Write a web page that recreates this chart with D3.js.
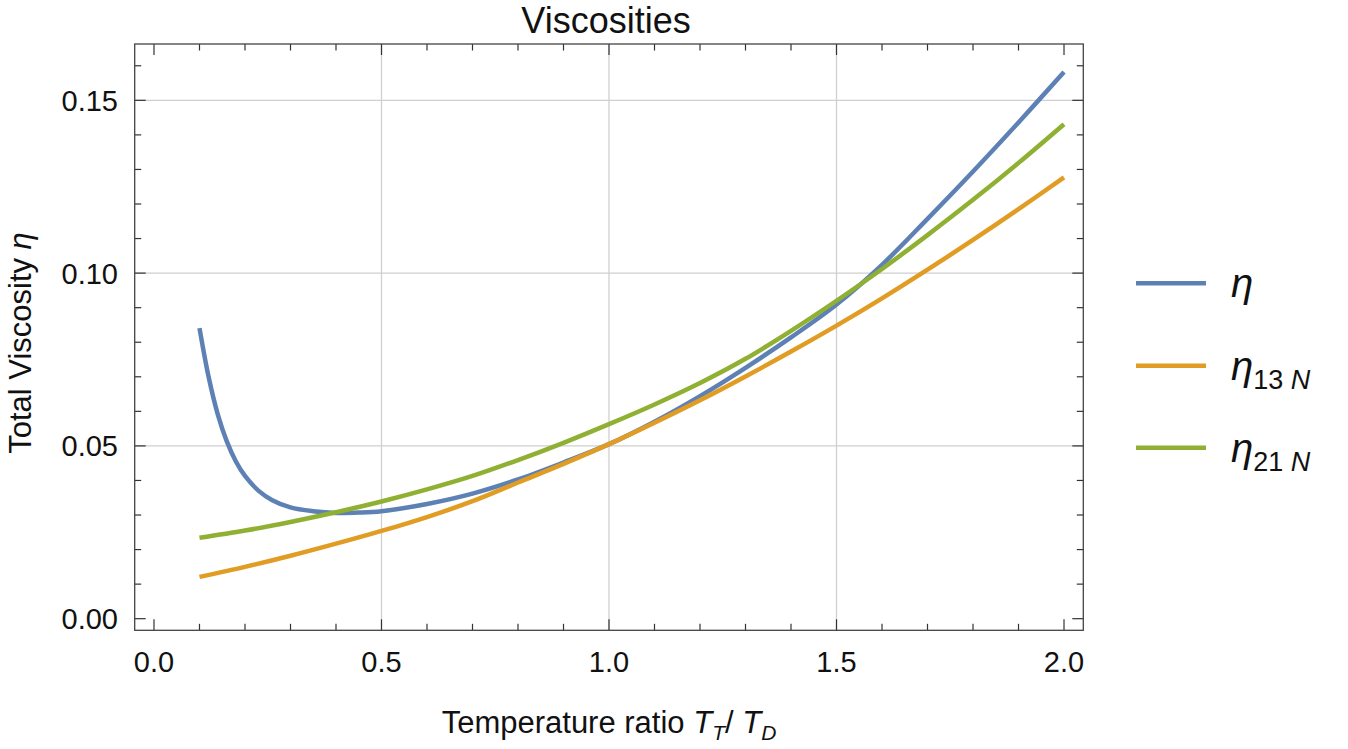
<!DOCTYPE html>
<html>
<head>
<meta charset="utf-8">
<script src="https://cdn.jsdelivr.net/npm/d3@7"></script>
<style>
  html, body { margin: 0; padding: 0; background: #fff; }
  svg { display: block; font-family: "Liberation Sans", Arial, sans-serif; }
</style>
</head>
<body>
<svg id="chart" width="1348" height="749"></svg>
<script>
// values
const blueX = [0.10, 0.12, 0.14, 0.16, 0.18, 0.20, 0.23, 0.26, 0.30, 0.35, 0.40, 0.45, 0.5,
  0.6, 0.7, 0.8, 0.9, 1.0, 1.1, 1.2, 1.3, 1.4, 1.5, 1.6, 1.7, 1.8, 1.9, 2.0];
const blueY = [0.0841, 0.0700, 0.0592, 0.0513, 0.0455, 0.0413, 0.0370, 0.0343, 0.0322, 0.0311, 0.0306, 0.0307, 0.0311,
  0.0332, 0.0362, 0.0403, 0.0452, 0.0505, 0.0570, 0.0644, 0.0726, 0.0814, 0.0909, 0.1024, 0.1157, 0.1294, 0.1436, 0.1582];

const tX = [0.1, 0.2, 0.3, 0.4, 0.5, 0.6, 0.7, 0.8, 0.9, 1.0, 1.1, 1.2, 1.3, 1.4, 1.5, 1.6, 1.7, 1.8, 1.9, 2.0];
const orangeY = [0.0121, 0.0150, 0.0182, 0.0217, 0.0254, 0.0294, 0.0340, 0.0394, 0.0448, 0.0505, 0.0567, 0.0632,
  0.0701, 0.0773, 0.0848, 0.0927, 0.1010, 0.1096, 0.1185, 0.1277];
const greenY = [0.0234, 0.0255, 0.0280, 0.0308, 0.0339, 0.0374, 0.0413, 0.0459, 0.0509, 0.0563, 0.0620, 0.0682,
  0.0752, 0.0833, 0.0920, 0.1012, 0.1110, 0.1212, 0.1319, 0.1431];

const xMajor = [0.0, 0.5, 1.0, 1.5, 2.0];
const yMajor = [0.00, 0.05, 0.10, 0.15];
const xGrid = [0.5, 1.0, 1.5];
const yGrid = [0.05, 0.10, 0.15];

const series = [
  { name: "eta", sub: null, color: "#5e81b5", xs: blueX, ys: blueY },
  { name: "eta13", sub: "13", color: "#e19c24", xs: tX, ys: orangeY },
  { name: "eta21", sub: "21", color: "#8fb032", xs: tX, ys: greenY },
];

const svg = d3.select("#chart");
const frame = { left: 134.7, right: 1083.3, top: 44, bottom: 630.3 };

const x = d3.scaleLinear().domain([-0.0424, 2.0424]).range([frame.left, frame.right]);
const y = d3.scaleLinear().domain([-0.00336, 0.1663]).range([frame.bottom, frame.top]);

const xMinor = d3.range(0, 21).map((i) => i / 10).filter((v) => !xMajor.some((m) => Math.abs(m - v) < 1e-9));
const yMinor = d3.range(0, 17).map((i) => i / 100).filter((v) => !yMajor.some((m) => Math.abs(m - v) < 1e-9));

// grid
const grid = svg.append("g").attr("stroke", "#cfcfcf").attr("stroke-width", 1.3);
grid.selectAll("line.gx").data(xGrid).join("line")
  .attr("x1", (d) => x(d)).attr("x2", (d) => x(d))
  .attr("y1", frame.top).attr("y2", frame.bottom);
grid.selectAll("line.gy").data(yGrid).join("line")
  .attr("y1", (d) => y(d)).attr("y2", (d) => y(d))
  .attr("x1", frame.left).attr("x2", frame.right);

// ticks on all four sides, pointing inward
const ticks = svg.append("g").attr("stroke", "#333").attr("stroke-width", 1.2);
function xTicks(vals, len) {
  ticks.append("g").selectAll("line").data(vals).join("line")
    .attr("x1", (d) => x(d)).attr("x2", (d) => x(d))
    .attr("y1", frame.bottom).attr("y2", frame.bottom - len);
  ticks.append("g").selectAll("line").data(vals).join("line")
    .attr("x1", (d) => x(d)).attr("x2", (d) => x(d))
    .attr("y1", frame.top).attr("y2", frame.top + len);
}
function yTicks(vals, len) {
  ticks.append("g").selectAll("line").data(vals).join("line")
    .attr("y1", (d) => y(d)).attr("y2", (d) => y(d))
    .attr("x1", frame.left).attr("x2", frame.left + len);
  ticks.append("g").selectAll("line").data(vals).join("line")
    .attr("y1", (d) => y(d)).attr("y2", (d) => y(d))
    .attr("x1", frame.right).attr("x2", frame.right - len);
}
xTicks(xMajor, 11);
xTicks(xMinor, 6.5);
yTicks(yMajor, 11);
yTicks(yMinor, 6.5);

svg.append("rect")
  .attr("x", frame.left).attr("y", frame.top)
  .attr("width", frame.right - frame.left).attr("height", frame.bottom - frame.top)
  .attr("fill", "none").attr("stroke", "#444").attr("stroke-width", 1.3);

// tick labels
svg.append("g").selectAll("text").data(xMajor).join("text")
  .attr("x", (d) => x(d)).attr("y", 672)
  .attr("text-anchor", "middle").attr("font-size", 29).attr("fill", "#111")
  .text((d) => d.toFixed(1));
svg.append("g").selectAll("text").data(yMajor).join("text")
  .attr("x", 118).attr("y", (d) => y(d) + 10.5)
  .attr("text-anchor", "end").attr("font-size", 29).attr("fill", "#111")
  .text((d) => d.toFixed(2));

// curves
const line = d3.line().curve(d3.curveCatmullRom.alpha(0.5));
svg.append("g").selectAll("path").data(series).join("path")
  .attr("fill", "none")
  .attr("stroke", (d) => d.color)
  .attr("stroke-width", 4.5)
  .attr("d", (d) => line(d.xs.map((v, i) => [x(v), y(d.ys[i])])));

// title
svg.append("text")
  .attr("x", (frame.left + frame.right) / 2 - 3).attr("y", 33)
  .attr("text-anchor", "middle").attr("font-size", 36).attr("fill", "#111")
  .text("Viscosities");

// x axis label
const xl = svg.append("text")
  .attr("x", 609).attr("y", 733)
  .attr("text-anchor", "middle").attr("font-size", 31).attr("fill", "#111");
xl.append("tspan").text("Temperature ratio ");
xl.append("tspan").attr("font-style", "italic").text("T");
xl.append("tspan").attr("font-style", "italic").attr("font-size", 21).attr("dy", 7).text("T");
xl.append("tspan").attr("dy", -7).text("/ ");
xl.append("tspan").attr("font-style", "italic").text("T");
xl.append("tspan").attr("font-style", "italic").attr("font-size", 21).attr("dy", 7).text("D");

// y axis label
const yl = svg.append("text")
  .attr("transform", "translate(31,343) rotate(-90)")
  .attr("text-anchor", "middle").attr("font-size", 31).attr("fill", "#111");
yl.append("tspan").text("Total Viscosity ");
yl.append("tspan").attr("font-style", "italic").text("η");

// legend
const legendY = [283.3, 365.7, 447.7];
const legend = svg.append("g").selectAll("g").data(series).join("g")
  .attr("transform", (d, i) => `translate(0,${legendY[i]})`);
legend.append("line")
  .attr("x1", 1136).attr("x2", 1206).attr("y1", 0).attr("y2", 0)
  .attr("stroke", (d) => d.color).attr("stroke-width", 4.5);
const lt = legend.append("text")
  .attr("x", 1231).attr("y", 14)
  .attr("font-size", 40).attr("fill", "#111");
lt.append("tspan").attr("font-style", "italic").text("η");
lt.filter((d) => d.sub).append("tspan")
  .attr("font-size", 27).attr("dy", 9).text((d) => d.sub);
lt.filter((d) => d.sub).append("tspan")
  .attr("font-size", 27).attr("font-style", "italic").text(" N");
</script>
</body>
</html>
